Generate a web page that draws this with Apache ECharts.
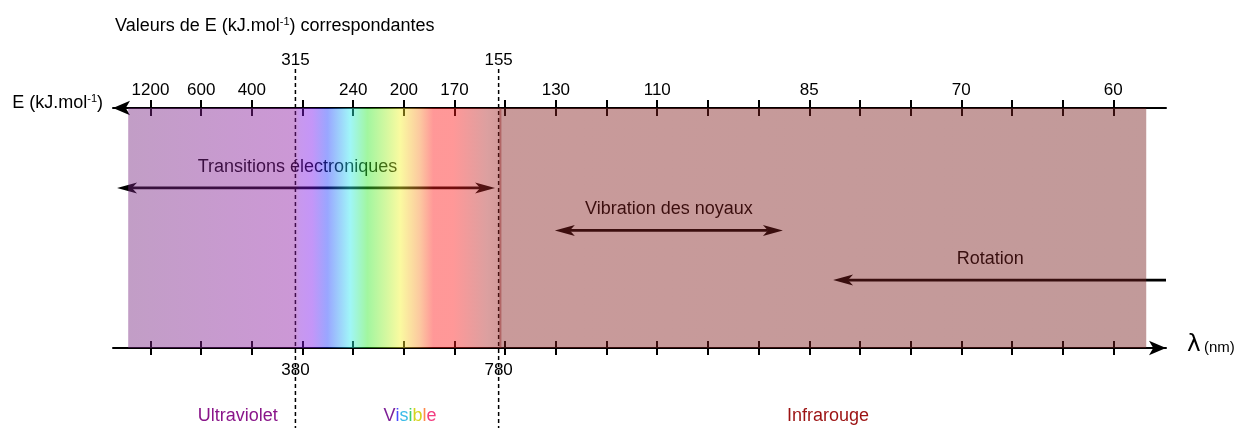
<!DOCTYPE html>
<html><head><meta charset="utf-8">
<script src="https://cdn.jsdelivr.net/npm/echarts@6/dist/echarts.min.js"></script>
<style>html,body{margin:0;padding:0;background:#fff}#c{width:1242px;height:428px}</style>
</head><body><div id="c"></div>
<script>
// ---------------- data ----------------
const tickSlots = [0,1,2,3,4,5,6,7,8,9,10,11,12,13,14,15,16,17,18,19];
const energyLabels = ['1200','600','400','','240','200','170','','130','','110','','','85','','','70','','','60'];
const boundaryPositions = [2.86, 6.87];
const boundaryEnergies = ['315','155'];
const boundaryWavelengths = ['380','780'];
const regionNames = ['Ultraviolet','Visible','Infrarouge'];
const regionCenters = [1.72, 5.12, 13.37];
const processNames = ['Transitions électroniques','Vibration des noyaux','Rotation'];
const processStart = [-0.66, 7.98, 13.47];
const processEnd = [6.80, 12.48, 20.04];
const processLevel = [0.667, 0.49, 0.283];
const processLabelAt = [2.9, 10.23, 16.57];
const processHeads = [['start','end'],['start','end'],['start']];
const spectrumExtent = [-0.44, 19.65];
const spectrumStopPos =   [-0.44,    2.85,     2.95,     3.19,     3.49,     3.94,     4.28,     4.67,     4.93,     5.32,     5.58,     5.97,     6.64,     6.85,     6.89,     19.65];
const spectrumStopColor = ['#c29ec6','#cc98d6','#c898ee','#c496f8','#9aa6ff','#a0f6f8','#a2f6a0','#d6f8a0','#fafaa0','#fcc8a0','#ff9898','#ff9898','#dca0a0','#d49c9c','#c99a9a','#c29a9a'];
const visibleLetterColors = ['#7d1f96','#4a4cff','#3cbce8','#3ccf6a','#d6d41e','#ff8a4a','#f23c80'];

// ---------------- layout / style ----------------
const AXIS_MIN = -0.74, AXIS_MAX = 20.04;
const DASH_TOP = 1.1625, DASH_BOTTOM = -0.35, REGION_LEVEL = -0.283;
const OVERLAY_ALPHA = 0.45;
const FONT = '"Liberation Sans", Arial, sans-serif';
const FS = 18, FN = 17;

function overlay(hex) {
  const v = [1,3,5].map(i => parseInt(hex.substr(i,2),16));
  const c = v.map(x => Math.max(0, Math.min(255, Math.round((x - 255*(1-OVERLAY_ALPHA))/OVERLAY_ALPHA))));
  return 'rgba(' + c.join(',') + ',' + OVERLAY_ALPHA + ')';
}
function nearestIdx(arr, v) {
  let b = 0; arr.forEach((p,i)=>{ if (Math.abs(p-v) < Math.abs(arr[b]-v)) b = i; }); return b;
}

const chart = echarts.init(document.getElementById('c'), null, {renderer:'canvas'});

const baseX = {type:'value', min:AXIS_MIN, max:AXIS_MAX, splitLine:{show:false}};
const txt = {fontSize:FS, fontFamily:FONT, color:'#000', fontWeight:'normal'};
const sup = {fontSize:11, fontFamily:FONT, color:'#000', fontWeight:'normal', padding:[0,0,9,0]};

const option = {
  backgroundColor:'#fff',
  animation:false,
  title:{
    text:'{t|Valeurs de E (kJ.mol}{s|-1}{t|) correspondantes}',
    left:110, top:11,
    textStyle:{fontWeight:'normal', rich:{t:txt, s:sup}}
  },
  grid:{left:113, right:76, top:108, bottom:80, containLabel:false},
  yAxis:{type:'value', min:0, max:1, show:false},
  xAxis:[
    Object.assign({}, baseX, {
      position:'top',
      axisLine:{show:true, onZero:false, lineStyle:{color:'#000', width:2}, symbol:['arrow','none'], symbolSize:[11,17]},
      axisTick:{show:true, customValues:tickSlots, length:8, lineStyle:{color:'#000', width:2}},
      axisLabel:{customValues:tickSlots.filter(i=>energyLabels[i]!==''), formatter:v=>energyLabels[Math.round(v)], fontSize:FN, fontFamily:FONT, color:'#000', margin:9},
      name:'{t|E (kJ.mol}{s|-1}{t|)}', nameLocation:'start', nameGap:10,
      nameTextStyle:{padding:[0,0,10,0], rich:{t:txt, s:sup}}
    }),
    Object.assign({}, baseX, {
      position:'top',
      axisLine:{show:false, onZero:false},
      axisTick:{show:true, inside:true, customValues:tickSlots, length:8, lineStyle:{color:'#000', width:2}},
      axisLabel:{show:false}
    }),
    Object.assign({}, baseX, {
      position:'top',
      axisLine:{show:false, onZero:false}, axisTick:{show:false},
      axisLabel:{customValues:boundaryPositions, formatter:v=>boundaryEnergies[nearestIdx(boundaryPositions,v)], fontSize:FN, fontFamily:FONT, color:'#000', margin:39}
    }),
    Object.assign({}, baseX, {
      position:'bottom',
      axisLine:{show:true, onZero:false, lineStyle:{color:'#000', width:2}, symbol:['none','arrow'], symbolSize:[11,17]},
      axisTick:{show:true, customValues:tickSlots, length:7, lineStyle:{color:'#000', width:2}},
      axisLabel:{customValues:boundaryPositions, formatter:v=>boundaryWavelengths[nearestIdx(boundaryPositions,v)], fontSize:FN, fontFamily:FONT, color:'#000', margin:14},
      name:'{l|λ} {u|(nm)}', nameLocation:'end', nameGap:21,
      nameTextStyle:{rich:{l:{fontSize:23, fontFamily:'"DejaVu Sans", sans-serif', color:'#000', padding:[0,0,6,0]}, u:{fontSize:15, fontFamily:FONT, color:'#000'}}}
    }),
    Object.assign({}, baseX, {
      position:'bottom',
      axisLine:{show:false, onZero:false},
      axisTick:{show:true, inside:true, customValues:tickSlots, length:7, lineStyle:{color:'#000', width:2}},
      axisLabel:{show:false}
    })
  ],
  series:[
    { // dashed boundaries
      type:'custom', xAxisIndex:0, z:1, clip:false, silent:true,
      data:boundaryPositions.map(p=>[p]),
      renderItem:(params, api)=>{
        const p = api.value(0);
        const a = api.coord([p, DASH_TOP]), b = api.coord([p, DASH_BOTTOM]);
        return {type:'line', shape:{x1:a[0], y1:a[1], x2:b[0], y2:b[1]}, style:{stroke:'#000', lineWidth:1.5, lineDash:[4,3]}};
      }
    },
    { // process arrows
      type:'custom', xAxisIndex:0, z:1, clip:false, silent:true,
      data:processNames.map((n,i)=>[processStart[i], processEnd[i], processLevel[i], processLabelAt[i]]),
      renderItem:(params, api)=>{
        const i = params.dataIndex;
        const s = api.coord([api.value(0), api.value(2)]);
        const e = api.coord([api.value(1), api.value(2)]);
        const lab = api.coord([api.value(3), api.value(2)]);
        const L = 20, W = 5.5, N = 15;
        const heads = processHeads[i];
        const children = [];
        const x1 = heads.includes('start') ? s[0] + N : s[0];
        const x2 = heads.includes('end') ? e[0] - N : e[0];
        children.push({type:'line', shape:{x1:x1, y1:s[1], x2:x2, y2:e[1]}, style:{stroke:'#000', lineWidth:2.6}});
        if (heads.includes('start')) children.push({type:'polygon', shape:{points:[[s[0],s[1]],[s[0]+L,s[1]-W],[s[0]+N,s[1]],[s[0]+L,s[1]+W]]}, style:{fill:'#000'}});
        if (heads.includes('end')) children.push({type:'polygon', shape:{points:[[e[0],e[1]],[e[0]-L,e[1]-W],[e[0]-N,e[1]],[e[0]-L,e[1]+W]]}, style:{fill:'#000'}});
        children.push({type:'text', x:lab[0], y:lab[1]-21, style:{text:processNames[i], fill:'#000', fontSize:FS, fontFamily:FONT, align:'center', verticalAlign:'middle'}});
        return {type:'group', children:children};
      }
    },
    { // spectrum band (semi-transparent overlay)
      type:'custom', xAxisIndex:0, z:3, clip:false, silent:true,
      data:[[spectrumExtent[0], spectrumExtent[1]]],
      renderItem:(params, api)=>{
        const x0 = api.value(0), x1 = api.value(1);
        const a = api.coord([x0, 1]), b = api.coord([x1, 0]);
        const stops = spectrumStopPos.map((p,i)=>({offset:(p-x0)/(x1-x0), color:overlay(spectrumStopColor[i])}));
        const edge = api.coord([boundaryPositions[1], 0]);
        return {type:'group', children:[
          {type:'rect', shape:{x:a[0], y:a[1], width:b[0]-a[0], height:b[1]-a[1]}, style:{fill:{type:'linear', x:0, y:0, x2:1, y2:0, colorStops:stops}}},
          {type:'line', shape:{x1:edge[0]+1.8, y1:a[1], x2:edge[0]+1.8, y2:b[1]}, style:{stroke:'rgba(150,40,40,0.45)', lineWidth:2}}
        ]};
      }
    },
    { // region names
      type:'custom', xAxisIndex:0, z:4, clip:false, silent:true,
      data:regionCenters.map(c=>[c]),
      renderItem:(params, api)=>{
        const i = params.dataIndex;
        const p = api.coord([api.value(0), REGION_LEVEL]);
        const st = {fill:'#000', fontSize:FS, fontFamily:FONT, align:'center', verticalAlign:'middle'};
        if (regionNames[i] === 'Visible') {
          const letters = regionNames[i].split('');
          const rich = {};
          letters.forEach((ch,k)=>{ rich['c'+k] = {fill:visibleLetterColors[k], fontSize:FS, fontFamily:FONT}; });
          st.text = letters.map((ch,k)=>'{c'+k+'|'+ch+'}').join('');
          st.rich = rich;
        } else {
          st.text = regionNames[i];
          st.fill = i === 0 ? '#8a168a' : '#9c1212';
        }
        return {type:'text', x:p[0], y:p[1], style:st};
      }
    }
  ]
};
chart.setOption(option);
</script>
</body></html>
